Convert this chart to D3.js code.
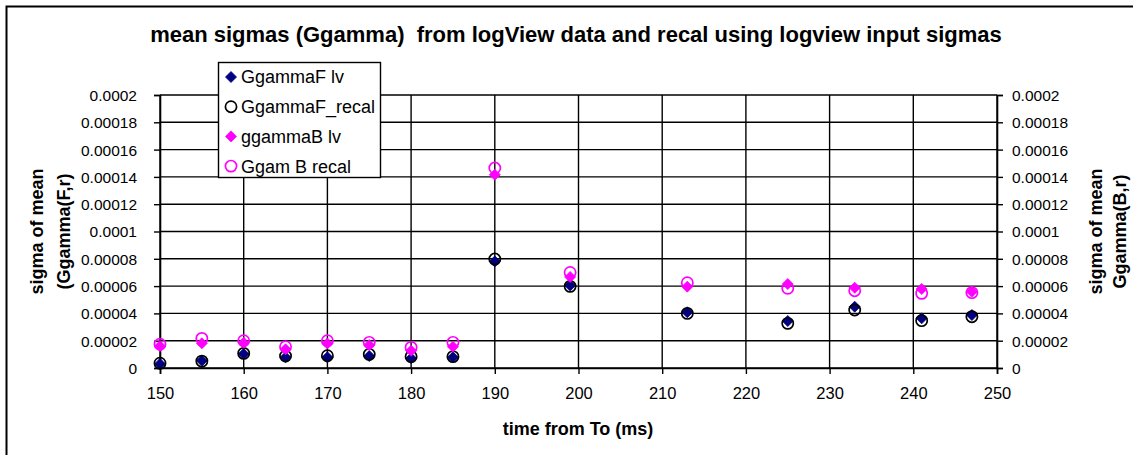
<!DOCTYPE html>
<html>
<head>
<meta charset="utf-8">
<script src="https://cdn.jsdelivr.net/npm/d3@7"></script>
<style>
  html, body { margin: 0; padding: 0; background: #fff; }
  svg { display: block; font-family: Arial, "Liberation Sans", sans-serif; }
  .pre { white-space: pre; }
</style>
</head>
<body>
<svg id="chart" width="1133" height="455"></svg>
<script>
// Time from To (ms)
const times = [150, 155, 160, 165, 170, 175, 180, 185, 190, 199, 213, 225, 233, 241, 247];

// Mean sigma series
const ggammaFLv    = [0.0000030, 0.0000053, 0.0000103, 0.0000078, 0.0000078, 0.0000088, 0.0000071, 0.0000078, 0.0000781, 0.0000605, 0.0000408, 0.0000344, 0.0000449, 0.0000364, 0.0000388];
const ggammaFRecal = [0.0000035, 0.0000050, 0.0000107, 0.0000088, 0.0000090, 0.0000100, 0.0000083, 0.0000083, 0.0000798, 0.0000598, 0.0000400, 0.0000327, 0.0000425, 0.0000347, 0.0000376];
const ggammaBLv    = [0.0000161, 0.0000181, 0.0000185, 0.0000137, 0.0000180, 0.0000168, 0.0000127, 0.0000156, 0.0001416, 0.0000667, 0.0000596, 0.0000615, 0.0000588, 0.0000579, 0.0000559];
const ggamBRecal   = [0.0000174, 0.0000217, 0.0000200, 0.0000156, 0.0000200, 0.0000188, 0.0000151, 0.0000188, 0.0001465, 0.0000700, 0.0000625, 0.0000584, 0.0000566, 0.0000547, 0.0000552];

// Axis ticks and labels
const xTicks = [150, 160, 170, 180, 190, 200, 210, 220, 230, 240, 250];
const yTicks = [0, 0.00002, 0.00004, 0.00006, 0.00008, 0.0001, 0.00012, 0.00014, 0.00016, 0.00018, 0.0002];
const yTickLabels = ["0", "0.00002", "0.00004", "0.00006", "0.00008", "0.0001", "0.00012", "0.00014", "0.00016", "0.00018", "0.0002"];

const seriesNames = ["GgammaF lv", "GgammaF_recal", "ggammaB lv", "Ggam B recal"];
const titleText = "mean sigmas (Ggamma)  from logView data and recal using logview input sigmas";
const xTitle = "time from To (ms)";
const yTitleLeft = ["sigma of mean", "(Ggamma(F,r)"];
const yTitleRight = ["sigma of mean", "Ggamma(B,r)"];

const series = [
  { name: seriesNames[0], values: ggammaFLv,    shape: "diamond", color: "#000080" },
  { name: seriesNames[1], values: ggammaFRecal, shape: "circle",  color: "#000000" },
  { name: seriesNames[2], values: ggammaBLv,    shape: "diamond", color: "#FF00FF" },
  { name: seriesNames[3], values: ggamBRecal,   shape: "circle",  color: "#FF00FF" }
];

const svg = d3.select("#chart");
const W = 1133, H = 455;
const plot = { left: 160, right: 997, top: 95, bottom: 368 };

const x = d3.scaleLinear().domain([150, 250]).range([plot.left, plot.right]);
const yL = d3.scaleLinear().domain([0, 0.0002]).range([plot.bottom, plot.top]);
const yR = d3.scaleLinear().domain([0, 0.0002]).range([plot.bottom, plot.top]);

// Outer chart frame
svg.append("rect").attr("x", 0).attr("y", 0).attr("width", W).attr("height", H).attr("fill", "#fff");
svg.append("rect")
  .attr("x", 6.5).attr("y", 6.5).attr("width", W + 20).attr("height", H + 20)
  .attr("fill", "none").attr("stroke", "#000").attr("stroke-width", 2);

// Title
svg.append("text")
  .attr("class", "pre")
  .attr("x", 576).attr("y", 42)
  .attr("text-anchor", "middle")
  .attr("font-weight", "bold").attr("font-size", 22)
  .text(titleText);

// Gridlines
const grid = svg.append("g").attr("stroke", "#000").attr("stroke-width", 1.4);
grid.selectAll("line.h").data(yTicks).join("line")
  .attr("x1", plot.left).attr("x2", plot.right)
  .attr("y1", d => yL(d)).attr("y2", d => yL(d));
grid.selectAll("line.v").data(xTicks).join("line")
  .attr("x1", d => x(d)).attr("x2", d => x(d))
  .attr("y1", plot.top).attr("y2", plot.bottom);

// Axes
const fmtY = d => yTickLabels[yTicks.indexOf(d)];

const xAxis = svg.append("g").attr("transform", `translate(0,${plot.bottom})`)
  .call(d3.axisBottom(x).tickValues(xTicks).tickSize(6).tickPadding(13).tickFormat(d3.format("d")));
const leftAxis = svg.append("g").attr("transform", `translate(${plot.left},0)`)
  .call(d3.axisLeft(yL).tickValues(yTicks).tickSize(6).tickPadding(17).tickFormat(fmtY));
const rightAxis = svg.append("g").attr("transform", `translate(${plot.right},0)`)
  .call(d3.axisRight(yR).tickValues(yTicks).tickSize(6).tickPadding(9).tickFormat(fmtY));

[xAxis, leftAxis, rightAxis].forEach(g => {
  g.select(".domain").attr("stroke", "#000").attr("stroke-width", 1.6);
  g.selectAll(".tick line").attr("stroke", "#000").attr("stroke-width", 1.4);
  g.selectAll(".tick text").attr("fill", "#000").attr("font-family", "Arial, 'Liberation Sans', sans-serif");
});
xAxis.selectAll(".tick text").attr("font-size", 16.5);
leftAxis.selectAll(".tick text").attr("font-size", 15.5).attr("dy", "0.35em");
rightAxis.selectAll(".tick text").attr("font-size", 15.5).attr("dy", "0.35em");

// Axis titles
svg.append("text")
  .attr("x", 578).attr("y", 435)
  .attr("text-anchor", "middle").attr("font-weight", "bold").attr("font-size", 18)
  .text(xTitle);

const midY = (plot.top + plot.bottom) / 2;
function axisTitle(lines, cx, gap) {
  const t = svg.append("text")
    .attr("transform", `translate(${cx},${midY}) rotate(-90)`)
    .attr("text-anchor", "middle").attr("font-weight", "bold").attr("font-size", 18);
  t.selectAll("tspan").data(lines).join("tspan")
    .attr("x", 0).attr("y", (d, i) => i * gap).attr("dy", "0.35em").text(d => d);
}
axisTitle(yTitleLeft, 37, 27);
axisTitle(yTitleRight, 1096, 24);

// Markers
function drawMarker(g, s, cx, cy) {
  if (s.shape === "diamond") {
    const r = 5.5;
    g.append("path")
      .attr("d", `M${cx},${cy - r}L${cx + r},${cy}L${cx},${cy + r}L${cx - r},${cy}Z`)
      .attr("fill", s.color).attr("stroke", s.color).attr("stroke-width", 0.8);
  } else {
    g.append("circle")
      .attr("cx", cx).attr("cy", cy).attr("r", 5.6)
      .attr("fill", "none").attr("stroke", s.color).attr("stroke-width", 1.7);
  }
}

const marks = svg.append("g");
series.forEach(s => {
  const g = marks.append("g");
  s.values.forEach((v, i) => drawMarker(g, s, x(times[i]), yL(v)));
});

// Legend
const legend = svg.append("g");
legend.append("rect")
  .attr("x", 218.5).attr("y", 62.5).attr("width", 162).attr("height", 115)
  .attr("fill", "#fff").attr("stroke", "#000").attr("stroke-width", 1.4);
series.forEach((s, i) => {
  const cy = 77 + i * 29.7;
  drawMarker(legend, s, 231, cy);
  legend.append("text")
    .attr("x", 241).attr("y", cy).attr("dy", "0.36em")
    .attr("font-size", 18).attr("fill", "#000")
    .text(s.name);
});
</script>
</body>
</html>
